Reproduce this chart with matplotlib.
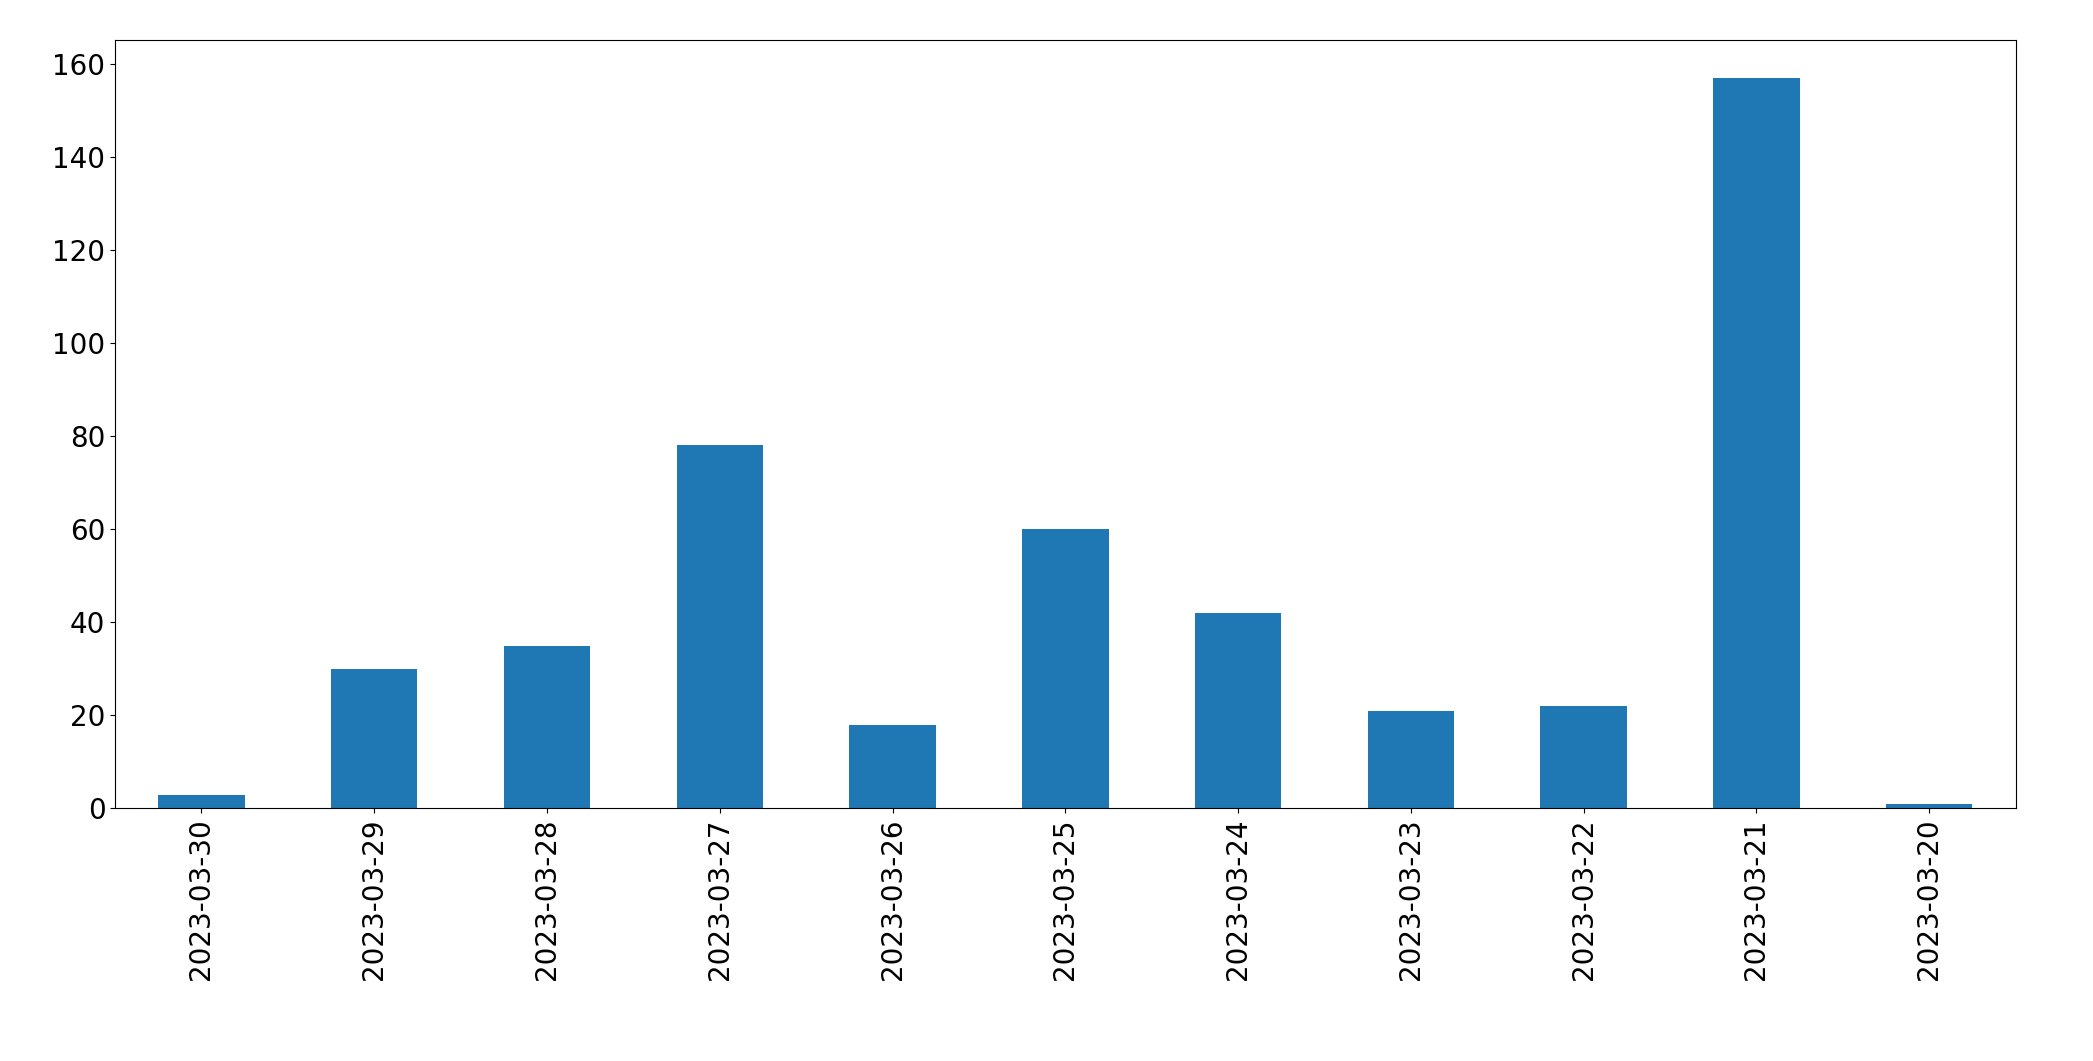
import matplotlib
matplotlib.use("Agg")
import matplotlib.pyplot as plt

dates = ["2023-03-30","2023-03-29","2023-03-28","2023-03-27","2023-03-26","2023-03-25",
         "2023-03-24","2023-03-23","2023-03-22","2023-03-21","2023-03-20"]
counts = [3, 30, 35, 78, 18, 60, 42, 21, 22, 157, 1]

fig = plt.figure(figsize=(20.93, 10.61), dpi=100)
ax = fig.add_axes([0.055, 0.238, 0.908, 0.724])
x = range(len(dates))
ax.bar(x, counts, width=0.5, color="#1f77b4")
ax.set_xticks(list(x))
ax.set_xticklabels(dates, rotation=90)
ax.set_xlim(-0.5, len(dates) - 0.5)
ax.set_ylim(0, 165)
ax.tick_params(labelsize=20)
fig.savefig("out.png", dpi=100)
